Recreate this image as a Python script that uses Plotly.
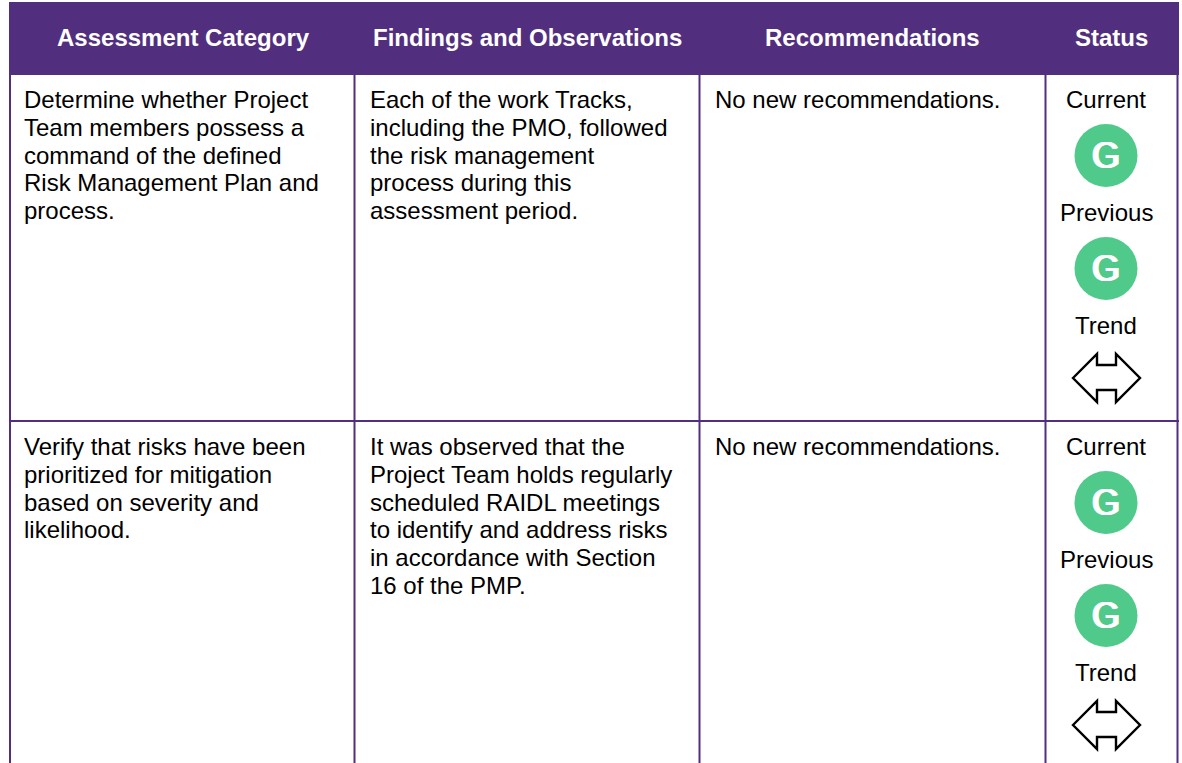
import plotly.graph_objects as go

headers = ["Assessment Category", "Findings and Observations", "Recommendations", "Status"]
row1_category = ["Determine whether Project", "Team members possess a", "command of the defined", "Risk Management Plan and", "process."]
row1_findings = ["Each of the work Tracks,", "including the PMO, followed", "the risk management", "process during this", "assessment period."]
row2_category = ["Verify that risks have been", "prioritized for mitigation", "based on severity and", "likelihood."]
row2_findings = ["It was observed that the", "Project Team holds regularly", "scheduled RAIDL meetings", "to identify and address risks", "in accordance with Section", "16 of the PMP."]
recommendation = "No new recommendations."
status_labels = ["Current", "Previous", "Trend"]
status_letters = ["G", "G"]
rows = [(row1_category, row1_findings), (row2_category, row2_findings)]

PURPLE = "#522e7e"
GREEN = "#4fca8a"
FONT = "Liberation Sans"
W, H = 1182, 763

header_x = [183, 527, 872, 1111]
text_x = [23, 369, 714]
status_x = 1106
row_top = [99.5, 446.5]
line_h = 27.75
sep_x = [10, 354.5, 699.5, 1045.5, 1177.5]
sep_y = 421

fig = go.Figure()
shapes = [dict(type="rect", x0=9, x1=1179, y0=2, y1=75, fillcolor=PURPLE, line_width=0, layer="below")]
for x in sep_x:
    shapes.append(dict(type="line", x0=x, x1=x, y0=75, y1=H, line=dict(color=PURPLE, width=2)))
shapes.append(dict(type="line", x0=9, x1=1179, y0=sep_y, y1=sep_y, line=dict(color=PURPLE, width=2)))

ann = []
def text(x, y, s, size=24, color="black", anchor="left", bold=False):
    ann.append(dict(x=x, y=y, text=f"<b>{s}</b>" if bold else s, showarrow=False, xanchor=anchor, yanchor="middle",
                    xref="x", yref="y", align=anchor, borderpad=0,
                    font=dict(family=FONT, size=size, color=color)))

for x, h in zip(header_x, headers):
    text(x, 37, h, size=24, color="white", anchor="center", bold=True)

cx, cy = [], []
for top, (cat, find) in zip(row_top, rows):
    for i, s in enumerate(cat):
        text(text_x[0], top + i * line_h, s)
    for i, s in enumerate(find):
        text(text_x[1], top + i * line_h, s)
    text(text_x[2], top, recommendation)
    for i, s in enumerate(status_labels):
        text(status_x, top + i * 113, s, anchor="center")
    for i, s in enumerate(status_letters):
        y = top + 56 + i * 113
        cx.append(status_x)
        cy.append(y)
        ann.append(dict(x=status_x, y=y, text=s, showarrow=False, xanchor="center", yanchor="middle",
                        font=dict(family=FONT, size=36, color="white",
                                  shadow="1.2px 0 0 white, -1.2px 0 0 white")))
    ay = top + 278.5
    L, R, a, b = status_x - 33, status_x + 34, status_x - 9, status_x + 10
    path = (f"M{L},{ay} L{a},{ay-24} L{a},{ay-13} L{b},{ay-13} L{b},{ay-24} L{R},{ay} "
            f"L{b},{ay+24} L{b},{ay+12} L{a},{ay+12} L{a},{ay+24} Z")
    shapes.append(dict(type="path", path=path, line=dict(color="black", width=2.4), fillcolor="white"))

fig.add_trace(go.Scatter(x=cx, y=cy, mode="markers", hoverinfo="skip", showlegend=False,
                         marker=dict(size=63, color=GREEN, line_width=0)))

fig.update_layout(width=W, height=H, margin=dict(l=0, r=0, t=0, b=0), paper_bgcolor="white", plot_bgcolor="white",
                  xaxis=dict(range=[0, W], visible=False, fixedrange=True),
                  yaxis=dict(range=[H, 0], visible=False, fixedrange=True),
                  shapes=shapes, annotations=ann, showlegend=False)
fig.write_html("out.html", config=dict(displayModeBar=False),
               post_script="document.body.style.margin='0';document.body.style.overflow='hidden';")
